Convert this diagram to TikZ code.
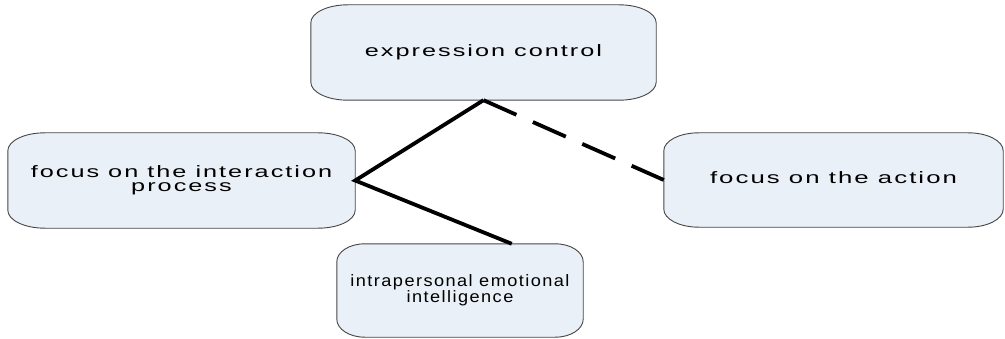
\documentclass[tikz,border=0pt]{standalone}
\usepackage{fontspec}
\usepackage{graphicx}
\usetikzlibrary{calc,backgrounds}
\newfontfamily\boxfont[LetterSpace=8]{Liberation Sans}
\definecolor{boxfill}{RGB}{234,240,247}
\definecolor{boxedge}{RGB}{70,70,70}
\newcommand\btxt[2]{\scalebox{#1}[1]{\begin{tabular}{@{}c@{}}#2\end{tabular}}}
\newcommand\ebox[3]{%
  \path[boxshape] ($(#1.north west)+(#2,0)$) -- ($(#1.north east)+(-#2,0)$)
    arc[start angle=90,end angle=0,x radius=#2,y radius=#3]
    -- ($(#1.south east)+(0,#3)$)
    arc[start angle=0,end angle=-90,x radius=#2,y radius=#3]
    -- ($(#1.south west)+(#2,0)$)
    arc[start angle=-90,end angle=-180,x radius=#2,y radius=#3]
    -- ($(#1.north west)+(0,-#3)$)
    arc[start angle=180,end angle=90,x radius=#2,y radius=#3] -- cycle;}
\tikzset{
  boxnode/.style={inner sep=0pt,font=\boxfont\fontsize{16.5}{14.5}\selectfont,text=black},
  boxshape/.style={fill=boxfill,draw=boxedge,line width=0.9pt},
  conn/.style={line width=3.8pt,black,line join=miter},
  dconn/.style={conn,dash pattern=on 36pt off 18pt}
}
\begin{document}
\begin{tikzpicture}[x=1pt,y=1pt]
\useasboundingbox (0,0) rectangle (1005,338);
\node[boxnode,minimum width=345pt,minimum height=95pt] (top) at (483.5,285.5) {\btxt{1.53}{expression control}};
\node[boxnode,minimum width=347pt,minimum height=95pt] (left) at (181.5,157.5) {\btxt{1.53}{focus on the interaction\\process}};
\node[boxnode,minimum width=246pt,minimum height=93pt] (bot) at (460,47.5) {\btxt{1.1}{intrapersonal emotional\\intelligence}};
\node[boxnode,minimum width=339pt,minimum height=94pt] (right) at (833.5,158) {\btxt{1.56}{focus on the action}};
\begin{scope}[on background layer]
  \ebox{top}{37pt}{18pt}
  \ebox{left}{37pt}{18pt}
  \ebox{bot}{28pt}{18pt}
  \ebox{right}{35pt}{18pt}
\end{scope}
\coordinate (botin) at ($(bot.north west)!0.71!(bot.north east)$);
\draw[conn] (top.south) -- (left.east) -- (botin);
\draw[dconn] (top.south) -- (right.west);
\end{tikzpicture}
\end{document}
